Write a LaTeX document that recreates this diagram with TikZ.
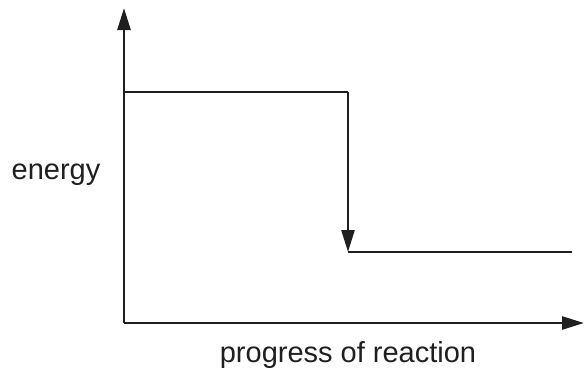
\documentclass[tikz,border=0pt]{standalone}
\usepackage{fontspec}
\setmainfont{Liberation Sans}
\usetikzlibrary{arrows.meta}
\begin{document}
\begin{tikzpicture}[x=1pt,y=-1pt,
  axisline/.style={line width=2.6pt,color=black!88},
  tiparrow/.style={-{Triangle[length=22pt,width=13pt]}},
  lbl/.style={font=\fontsize{29}{33}\selectfont,inner sep=0pt,text=black!88}]
\useasboundingbox (0,0) rectangle (584,370);
\coordinate (O) at (124,323);
\coordinate (ytop) at (124,8);
\coordinate (xend) at (584,323);
\coordinate (a) at (124,92);
\coordinate (b) at (348,92);
\coordinate (c) at (348,252);
\coordinate (d) at (572,252);
\draw[axisline,tiparrow] (O) -- (ytop);
\draw[axisline,tiparrow] (O) -- (xend);
\draw[axisline] (a) -- (b);
\draw[axisline,tiparrow] (b) -- (c);
\draw[axisline] (c) -- (d);
\node[lbl,anchor=base] (elbl) at (56,179) {energy};
\node[lbl,anchor=base] (plbl) at (348,362) {progress of reaction};
\end{tikzpicture}
\end{document}
